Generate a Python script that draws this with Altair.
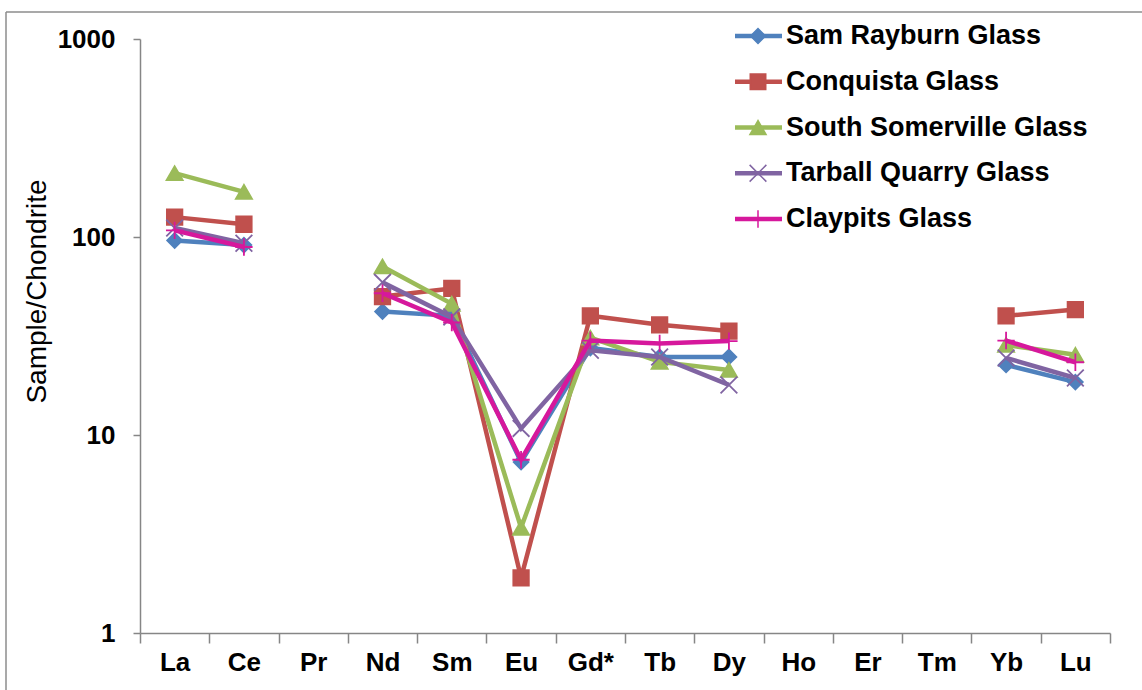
import altair as alt
import pandas as pd

elements = ["La", "Ce", "Pr", "Nd", "Sm", "Eu", "Gd*", "Tb", "Dy", "Ho", "Er", "Tm", "Yb", "Lu"]

series_names = [
    "Sam Rayburn Glass",
    "Conquista Glass",
    "South Somerville Glass",
    "Tarball Quarry Glass",
    "Claypits Glass",
]

sam_rayburn = [96, 91, None, 42, 40, 7.3, 27.5, 24.8, 24.8, None, None, None, 22.6, 18.5]
conquista = [126, 116, None, 50, 55, 1.9, 40, 36, 33.5, None, None, None, 40, 43]
south_somerville = [210, 169, None, 71, 46, 3.4, 31, 23.4, 21.3, None, None, None, 28.5, 25.4]
tarball_quarry = [111, 93, None, 59, 39.5, 10.8, 26.8, 24.8, 17.9, None, None, None, 24.5, 19.4]
claypits = [108, 89, None, 52, 37, 7.5, 30, 29, 29.8, None, None, None, 30, 23.3]

all_values = [sam_rayburn, conquista, south_somerville, tarball_quarry, claypits]

colors = ["#4F81BD", "#C0504D", "#9BBB59", "#8064A2", "#D6189C"]
shapes = [
    "diamond",
    "square",
    "triangle-up",
    "M-1,-1L1,1M-1,1L1,-1",
    "M-1,0L1,0M0,-1L0,1",
]
sizes = [220, 300, 320, 340, 440]

rows = []
for name, vals in zip(series_names, all_values):
    seg = 0
    gap = True
    for i, (el, v) in enumerate(zip(elements, vals)):
        if v is None:
            gap = True
            continue
        if gap:
            seg += 1
            gap = False
        rows.append({"series": name, "element": el, "value": v,
                     "segment": f"{name}-{seg}", "order": i})
df = pd.DataFrame(rows)

FONT = "Liberation Sans"
AXIS_GRAY = "#868686"

color_scale = alt.Scale(domain=series_names, range=colors)
shape_scale = alt.Scale(domain=series_names, range=shapes)
size_scale = alt.Scale(domain=series_names, range=sizes)

x_enc = alt.X(
    "element:N",
    sort=elements,
    bandPosition=0.5,
    scale=alt.Scale(type="band", domain=elements, paddingInner=0, paddingOuter=0),
    axis=alt.Axis(
        title=None, tickBand="extent", labelAngle=0, grid=False,
        domainColor=AXIS_GRAY, tickColor=AXIS_GRAY, tickSize=10, tickWidth=1.5,
        domainWidth=1.5, labelFont=FONT, labelFontSize=26, labelFontWeight="bold",
        labelColor="black", labelPadding=6,
    ),
)
y_enc = alt.Y(
    "value:Q",
    scale=alt.Scale(type="log", domain=[1, 1000], nice=False),
    axis=alt.Axis(
        values=[1, 10, 100, 1000], format="d", grid=False,
        domainColor=AXIS_GRAY, tickColor=AXIS_GRAY, tickSize=7, tickWidth=1.5,
        domainWidth=1.5, labelFont=FONT, labelFontSize=26, labelFontWeight="bold",
        labelColor="black", labelPadding=18,
        title="Sample/Chondrite", titleFont=FONT, titleFontSize=28,
        titleFontWeight="normal", titleColor="black", titleX=-95, titleY=252,
        titleAlign="center", titleBaseline="alphabetic", titleAngle=-90,
    ),
)

main_layers = []
for name in series_names:
    base = alt.Chart(df).transform_filter(alt.datum.series == name)
    line = base.mark_line(strokeWidth=4.5).encode(
        x=x_enc, y=y_enc,
        color=alt.Color("series:N", scale=color_scale, legend=None),
        detail="segment:N",
        order="order:Q",
    )
    pts = base.mark_point(filled=True, opacity=1, strokeWidth=1.8).encode(
        x=x_enc, y=y_enc,
        color=alt.Color("series:N", scale=color_scale, legend=None),
        stroke=alt.Stroke("series:N", scale=color_scale, legend=None),
        shape=alt.Shape("series:N", scale=shape_scale, legend=None),
        size=alt.Size("series:N", scale=size_scale, legend=None),
    )
    main_layers += [line, pts]

main = alt.layer(*main_layers)

legend_df = pd.DataFrame({"series": series_names})
leg_y = alt.Y(
    "series:N", sort=series_names,
    scale=alt.Scale(type="point", domain=series_names, range=[-3, 180], padding=0),
    axis=None,
)
leg_base = alt.Chart(legend_df)
leg_rule = leg_base.mark_rule(strokeWidth=4.5).encode(
    y=leg_y, x=alt.value(595), x2=alt.value(642),
    color=alt.Color("series:N", scale=color_scale, legend=None),
)
leg_pts = leg_base.mark_point(filled=True, opacity=1, strokeWidth=1.5).encode(
    y=leg_y, x=alt.value(618),
    color=alt.Color("series:N", scale=color_scale, legend=None),
    stroke=alt.Stroke("series:N", scale=color_scale, legend=None),
    shape=alt.Shape("series:N", scale=shape_scale, legend=None),
    size=alt.Size("series:N", scale=alt.Scale(domain=series_names, range=[140, 200, 220, 330, 330]), legend=None),
)
leg_text = leg_base.mark_text(
    align="left", baseline="middle", font=FONT, fontSize=27, fontWeight="bold"
).encode(y=leg_y, x=alt.value(646), text="series:N", color=alt.value("black"))

border_df = pd.DataFrame({"a": [0]})
border_top = alt.Chart(border_df).mark_rule(color="#8C8C8C", strokeWidth=1.5).encode(
    x=alt.value(-134), x2=alt.value(1002), y=alt.value(-27)
)
border_left = alt.Chart(border_df).mark_rule(color="#8C8C8C", strokeWidth=1.5).encode(
    x=alt.value(-134), y=alt.value(-27), y2=alt.value(651)
)

legend = alt.layer(leg_rule, leg_pts, leg_text, border_top, border_left)

chart = (
    alt.layer(main, legend)
    .resolve_scale(y="independent")
    .properties(
        width=970,
        height=594,
        autosize=alt.AutoSizeParams(type="none"),
        padding={"left": 140, "top": 39, "right": 32, "bottom": 57},
        background="white",
    )
    .configure_view(stroke=None)
)

chart.save("out.html", embed_options={"renderer": "svg", "actions": False})
